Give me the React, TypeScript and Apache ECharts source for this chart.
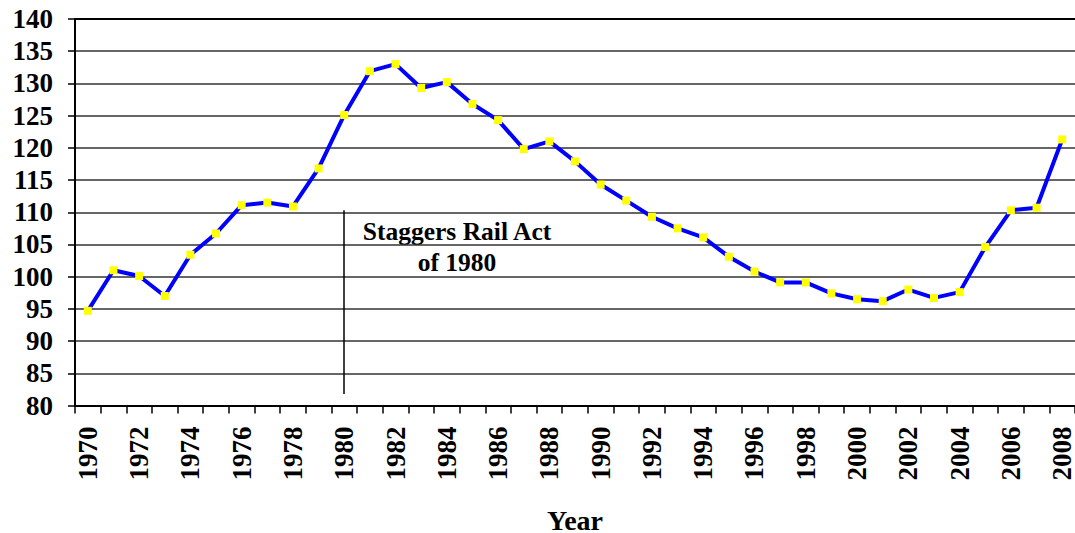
import React, { useEffect, useRef } from "react";
import * as echarts from "echarts";

const years: string[] = [
  "1970","1971","1972","1973","1974","1975","1976","1977","1978","1979",
  "1980","1981","1982","1983","1984","1985","1986","1987","1988","1989",
  "1990","1991","1992","1993","1994","1995","1996","1997","1998","1999",
  "2000","2001","2002","2003","2004","2005","2006","2007","2008",
];

const values: number[] = [
  94.7, 101.0, 100.1, 97.0, 103.4, 106.7, 111.1, 111.5, 110.9, 116.8,
  125.1, 131.9, 133.0, 129.3, 130.2, 126.8, 124.3, 119.8, 121.0, 117.9,
  114.3, 111.8, 109.3, 107.5, 106.1, 103.1, 100.8, 99.1, 99.1, 97.4,
  96.5, 96.2, 98.0, 96.7, 97.6, 104.6, 110.3, 110.7, 121.3,
];

const yMin = 80;
const yMax = 140;
const yStep = 5;

const annotationYear = "1980";
const annotationLineTop = 110.3;
const annotationLineBottom = 81.8;
const annotationText = "Staggers Rail Act\nof 1980";
const xAxisTitle = "Year";

const FONT = "Liberation Serif, Times New Roman, serif";

export default function App() {
  const ref = useRef<HTMLDivElement>(null);

  useEffect(() => {
    if (!ref.current) return;
    const chart = echarts.init(ref.current, undefined, { renderer: "svg" });
    chart.setOption({
      animation: false,
      backgroundColor: "#ffffff",
      textStyle: { fontFamily: FONT },
      grid: {
        left: 75,
        right: 0,
        top: 19,
        bottom: 127.5,
        containLabel: false,
        outerBoundsMode: "none",
      },
      xAxis: [
        {
          type: "category",
          data: years,
          boundaryGap: true,
          position: "bottom",
          axisLine: { lineStyle: { color: "#000", width: 2 } },
          axisTick: {
            show: true,
            interval: 0,
            length: 8,
            lineStyle: { color: "#000", width: 1.5 },
          },
          axisLabel: {
            interval: 1,
            rotate: 90,
            margin: 21,
            color: "#000",
            fontFamily: FONT,
            fontWeight: "bold",
            fontSize: 27,
            lineHeight: 22,
          },
          splitLine: { show: false },
          name: xAxisTitle,
          nameLocation: "middle",
          nameGap: 102,
          nameTextStyle: {
            color: "#000",
            fontFamily: FONT,
            fontWeight: "bold",
            fontSize: 28,
            lineHeight: 26,
          },
        },
        {
          type: "category",
          data: years,
          position: "top",
          axisLine: { show: true, lineStyle: { color: "#000", width: 2 } },
          axisTick: { show: false },
          axisLabel: { show: false },
          splitLine: { show: false },
        },
      ],
      yAxis: {
        type: "value",
        min: yMin,
        max: yMax,
        interval: yStep,
        axisLine: { show: true, lineStyle: { color: "#000", width: 2 } },
        axisTick: { show: true, length: 7, lineStyle: { color: "#000", width: 1.5 } },
        axisLabel: {
          margin: 22,
          color: "#000",
          fontFamily: FONT,
          fontWeight: "bold",
          fontSize: 27,
        },
        splitLine: { show: true, lineStyle: { color: "#333", width: 1.5 } },
      },
      graphic: [
        {
          type: "text",
          x: 457,
          y: 247,
          style: {
            text: annotationText,
            fontFamily: FONT,
            fontWeight: "bold",
            fontSize: 25.5,
            fill: "#000",
            textAlign: "center",
            textVerticalAlign: "middle",
            lineHeight: 31,
          },
        },
      ],
      series: [
        {
          type: "line",
          data: values,
          symbol: "rect",
          symbolSize: 8,
          showSymbol: true,
          lineStyle: { color: "#0000FF", width: 4 },
          itemStyle: { color: "#FFFF00" },
          markLine: {
            silent: true,
            symbol: ["none", "none"],
            label: { show: false },
            lineStyle: { color: "#000", width: 1.5, type: "solid" },
            data: [
              [
                { coord: [annotationYear, annotationLineTop] },
                { coord: [annotationYear, annotationLineBottom] },
              ],
            ],
          },
        },
      ],
    });
    return () => chart.dispose();
  }, []);

  return (
    <div
      ref={ref}
      style={{ position: "absolute", left: 0, top: 0, width: 1075, height: 533 }}
    />
  );
}
